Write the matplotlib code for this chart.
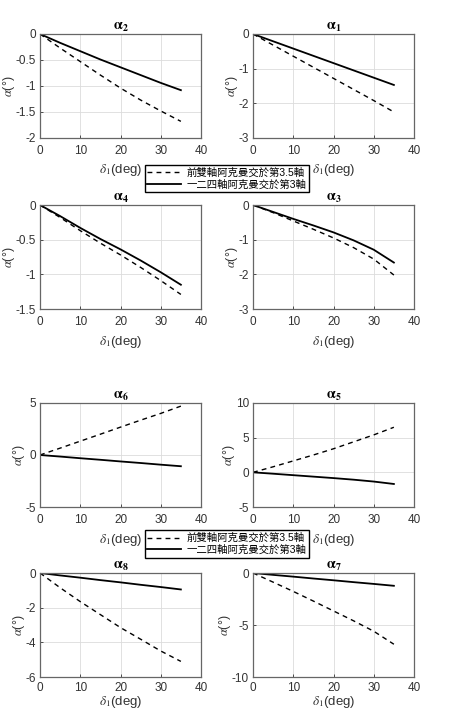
import numpy as np
import matplotlib
matplotlib.use("Agg")
from matplotlib import pyplot as plt

plt.rcParams['font.family'] = ['Liberation Sans', 'Noto Sans CJK TC', 'DejaVu Sans']
plt.rcParams['mathtext.fontset'] = 'stix'
plt.rcParams['axes.unicode_minus'] = False

delta = [0, 5, 10, 15, 20, 25, 30, 35]
labels = ['前雙軸阿克曼交於第3.5軸', '一二四軸阿克曼交於第3軸']

# dashed = first legend entry, solid = second
a2_dash = [0, -0.27, -0.53, -0.79, -1.04, -1.27, -1.48, -1.68]
a2_solid = [0, -0.17, -0.33, -0.49, -0.64, -0.79, -0.94, -1.08]
a1_dash = [0, -0.32, -0.64, -0.96, -1.28, -1.6, -1.92, -2.25]
a1_solid = [0, -0.21, -0.42, -0.63, -0.84, -1.05, -1.26, -1.47]
a4_dash = [0, -0.18, -0.37, -0.55, -0.72, -0.9, -1.09, -1.29]
a4_solid = [0, -0.16, -0.33, -0.49, -0.64, -0.8, -0.97, -1.15]
a3_dash = [0, -0.22, -0.46, -0.7, -0.95, -1.23, -1.56, -2.02]
a3_solid = [0, -0.2, -0.4, -0.59, -0.79, -1.02, -1.29, -1.66]
a6_dash = [0, 0.66, 1.33, 2.0, 2.68, 3.35, 4.0, 4.7]
a6_solid = [0, -0.15, -0.31, -0.46, -0.62, -0.77, -0.93, -1.08]
a5_dash = [0, 0.8, 1.65, 2.5, 3.4, 4.4, 5.4, 6.5]
a5_solid = [0, -0.2, -0.41, -0.62, -0.83, -1.06, -1.33, -1.68]
a8_dash = [0, -0.85, -1.65, -2.4, -3.15, -3.82, -4.5, -5.1]
a8_solid = [0, -0.14, -0.27, -0.41, -0.54, -0.68, -0.81, -0.95]
a7_dash = [0, -0.88, -1.77, -2.7, -3.65, -4.6, -5.6, -6.85]
a7_solid = [0, -0.18, -0.35, -0.53, -0.7, -0.88, -1.05, -1.23]

panels = [
    ('2', a2_dash, a2_solid, (-2, 0), [-2, -1.5, -1, -0.5, 0], ['-2', '-1.5', '-1', '-0.5', '0']),
    ('1', a1_dash, a1_solid, (-3, 0), [-3, -2, -1, 0], ['-3', '-2', '-1', '0']),
    ('4', a4_dash, a4_solid, (-1.5, 0), [-1.5, -1, -0.5, 0], ['-1.5', '-1', '-0.5', '0']),
    ('3', a3_dash, a3_solid, (-3, 0), [-3, -2, -1, 0], ['-3', '-2', '-1', '0']),
    ('6', a6_dash, a6_solid, (-5, 5), [-5, 0, 5], ['-5', '0', '5']),
    ('5', a5_dash, a5_solid, (-5, 10), [-5, 0, 5, 10], ['-5', '0', '5', '10']),
    ('8', a8_dash, a8_solid, (-6, 0), [-6, -4, -2, 0], ['-6', '-4', '-2', '0']),
    ('7', a7_dash, a7_solid, (-10, 0), [-10, -5, 0], ['-10', '-5', '0']),
]

W, H = 474, 713
fig = plt.figure(figsize=(W / 100, H / 100), dpi=100)

# pixel boxes: left, top, width, height
lefts = [40, 253]
tops = [34, 205, 403, 573]
aw, ah = 161, 104

handles = None
for i, (name, yd, ys, ylim, yt, ytl) in enumerate(panels):
    r, c = divmod(i, 2)
    l, t = lefts[c], tops[r]
    ax = fig.add_axes([l / W, 1 - (t + ah) / H, aw / W, ah / H])
    ld, = ax.plot(delta, yd, 'k--', lw=1.0, dashes=(3.5, 3))
    ls, = ax.plot(delta, ys, 'k-', lw=1.3)
    handles = [ld, ls]
    ax.set_xlim(0, 40)
    ax.set_ylim(*ylim)
    ax.set_xticks([0, 10, 20, 30, 40])
    ax.set_yticks(yt)
    ax.set_yticklabels(ytl)
    ax.grid(True, color='#dcdcdc', lw=0.6)
    ax.tick_params(direction='in', length=2, labelsize=8.5, colors='#333333', width=0.6)
    # bottom row sits at the lower edge, keep its labels inside the picture
    last = r == 3
    ax.tick_params(axis='x', pad=3.5 if last else 5)
    ax.tick_params(axis='y', pad=3)
    for s in ax.spines.values():
        s.set_color('#666666')
        s.set_linewidth(0.9)
    ax.set_title(r'$\mathbf{\alpha_{%s}}$' % name, fontsize=10, pad=3)
    ax.set_xlabel(r'$\delta_1$(deg)', fontsize=9.5, color='#333333', labelpad=0 if last else 4)
    ax.set_ylabel(r'$\alpha$(°)', fontsize=9, color='#333333', labelpad=-1)

for cy in [178.5, 544]:
    fig.legend(handles, labels, loc='center', bbox_to_anchor=(227 / W, 1 - cy / H),
               fontsize=7.5, frameon=True, fancybox=False, edgecolor='black',
               framealpha=1, handlelength=3.2, handletextpad=0.6,
               borderpad=0.25, labelspacing=0.15, borderaxespad=0)

fig.savefig('out.png', dpi=100, facecolor='white')
